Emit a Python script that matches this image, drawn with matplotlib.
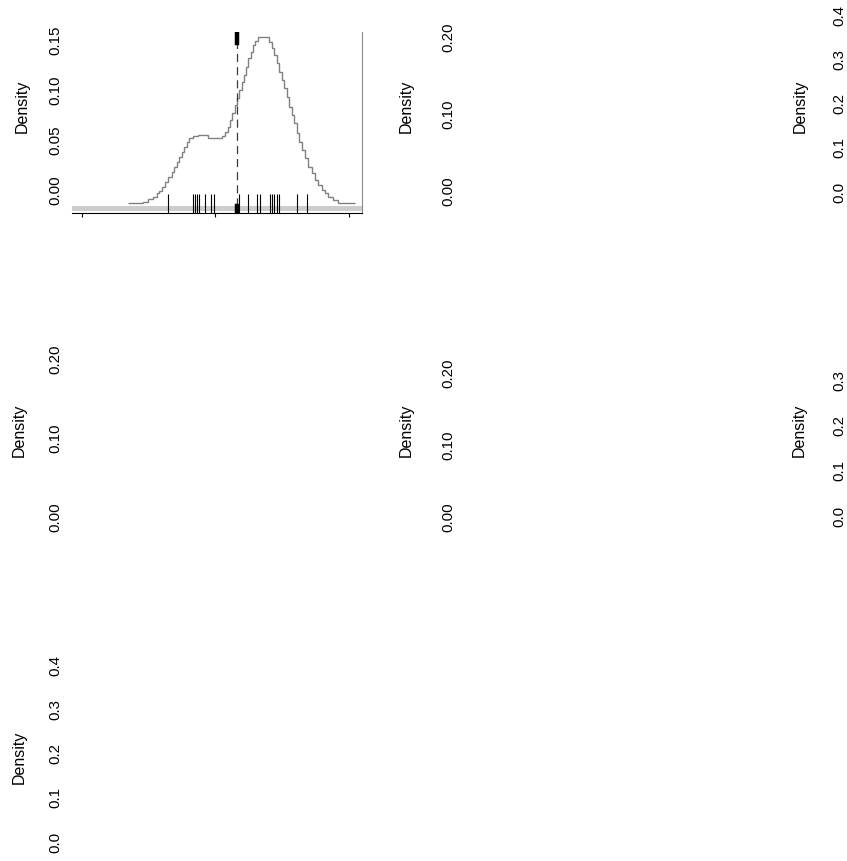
import numpy as np
import matplotlib.pyplot as plt

plt.rcParams["font.family"] = ["Liberation Sans", "DejaVu Sans"]

W, H = 847, 861

# Step density curve of the first panel: bin edges and heights
dens_edges = [-2.62, -2.17, -2.02, -1.87, -1.75, -1.69, -1.60, -1.51, -1.42, -1.30,
              -1.24, -1.15, -1.09, -1.00, -0.94, -0.85, -0.79, -0.67, -0.52, -0.22,
              0.19, 0.28, 0.37, 0.43, 0.49, 0.58, 0.64, 0.70, 0.79, 0.84,
              0.91, 0.97, 1.06, 1.12, 1.18, 1.27, 1.61, 1.69, 1.75, 1.84,
              1.90, 1.99, 2.05, 2.14, 2.20, 2.29, 2.35, 2.44, 2.50, 2.59,
              2.68, 2.77, 2.89, 2.98, 3.07, 3.19, 3.28, 3.37, 3.52, 3.67,
              4.18]
dens_vals = [0.005, 0.0065, 0.009, 0.011, 0.015, 0.018, 0.022, 0.027, 0.032, 0.037,
             0.042, 0.047, 0.053, 0.058, 0.063, 0.068, 0.072, 0.074, 0.075, 0.072,
             0.074, 0.078, 0.083, 0.091, 0.098, 0.106, 0.113, 0.122, 0.130, 0.137,
             0.145, 0.155, 0.161, 0.168, 0.172, 0.176, 0.171, 0.165, 0.158, 0.149,
             0.140, 0.132, 0.124, 0.114, 0.104, 0.096, 0.088, 0.077, 0.068, 0.060,
             0.051, 0.042, 0.036, 0.029, 0.024, 0.019, 0.015, 0.011, 0.008, 0.005]

# Rug of observations and the marked value
rug_x = [-1.41, -0.68, -0.61, -0.55, -0.48, -0.31, -0.13, -0.04, 0.70, 0.98,
         1.25, 1.33, 1.63, 1.69, 1.76, 1.83, 1.91, 2.45, 2.73]
obs_x = 0.63
x_ticks = [-4, 0, 4]

# y ticks of each panel, row by row (panels without a drawn curve)
yticks_11 = [0.00, 0.05, 0.10, 0.15]
yticks_12 = [0.00, 0.10, 0.20]
yticks_13 = [0.0, 0.1, 0.2, 0.3, 0.4]
yticks_21 = [0.00, 0.10, 0.20]
yticks_22 = [0.00, 0.10, 0.20]
yticks_23 = [0.0, 0.1, 0.2, 0.3]
yticks_31 = [0.0, 0.1, 0.2, 0.3, 0.4]


def px_axes(fig, left, top, width, height):
    """Add axes given in pixel coordinates measured from the top left corner"""
    return fig.add_axes([left / W, 1 - (top + height) / H, width / W, height / H])


fig = plt.figure(figsize=(W / 100, H / 100), dpi=100)
fig.patch.set_facecolor("white")

# pixel layout: ticks, decimals, axis left, row centre, pixel of zero, px per unit, label centre
panels = [
    (yticks_11, 2, 72, 106, 190.4, 998.4, 22),
    (yticks_12, 2, 465, 106, 191.0, 767.5, 406),
    (yticks_13, 1, 856, 106, 192.0, 442.5, 800),
    (yticks_21, 2, 72, 430, 517.0, 790.0, 19),
    (yticks_22, 2, 465, 430, 517.0, 720.0, 406),
    (yticks_23, 1, 856, 430, 516.0, 453.0, 799),
    (yticks_31, 1, 72, 757, 842.0, 442.5, 19),
]

for ticks, dec, left, cy, zero_px, ppu, lab_x in panels:
    top, height, width = cy - 100, 200, 290
    ax = px_axes(fig, left, top, width, height)
    ax.set_facecolor("none")
    for s in ax.spines.values():
        s.set_visible(False)
    ax.set_xticks([])
    ax.set_ylim((zero_px - (top + height)) / ppu, (zero_px - top) / ppu)
    ax.set_yticks(ticks, [f"{t:.{dec}f}" for t in ticks])
    ax.tick_params(axis="y", length=0, pad=7, labelsize=10.8, colors="black")
    for lab in ax.get_yticklabels():
        lab.set_rotation(90)
        lab.set_va("center")
    ax.set_ylabel("Density", fontsize=11.5)
    ax.yaxis.set_label_coords((lab_x + 8 - left) / width, 0.5)

# first panel: the density curve itself
ax = px_axes(fig, 72, 32, 290, 181)
ax.set_facecolor("none")
ax.set_xlim(-4.30, 4.39)
ax.set_ylim(-0.00515, 0.1813)
for side in ("left", "top"):
    ax.spines[side].set_visible(False)
ax.spines["right"].set_color("#8a8a8a")
ax.spines["right"].set_linewidth(0.8)
ax.spines["bottom"].set_color("black")
ax.spines["bottom"].set_linewidth(0.8)
ax.set_yticks([])
ax.set_xticks(x_ticks, [""] * len(x_ticks))
ax.tick_params(axis="x", length=3, width=0.8, direction="out")

ax.axhline(0, color="#cccccc", lw=3.6, zorder=1)
ax.stairs(dens_vals, dens_edges, baseline=None, color="#808080", lw=1.0, zorder=2)
ax.vlines(rug_x, 0, 0.105, transform=ax.get_xaxis_transform(), color="black", lw=0.8, zorder=3)
ax.axvline(obs_x, ymin=0.039, ymax=0.939, color="#3a3a3a", lw=0.9, dashes=(6.5, 4), zorder=3)
ax.axvline(obs_x, ymin=0.939, ymax=0.994, color="black", lw=3.2, zorder=4)
ax.axvline(obs_x, ymin=0.0, ymax=0.039, color="black", lw=3.2, zorder=4)

fig.savefig("out.png", dpi=100)
